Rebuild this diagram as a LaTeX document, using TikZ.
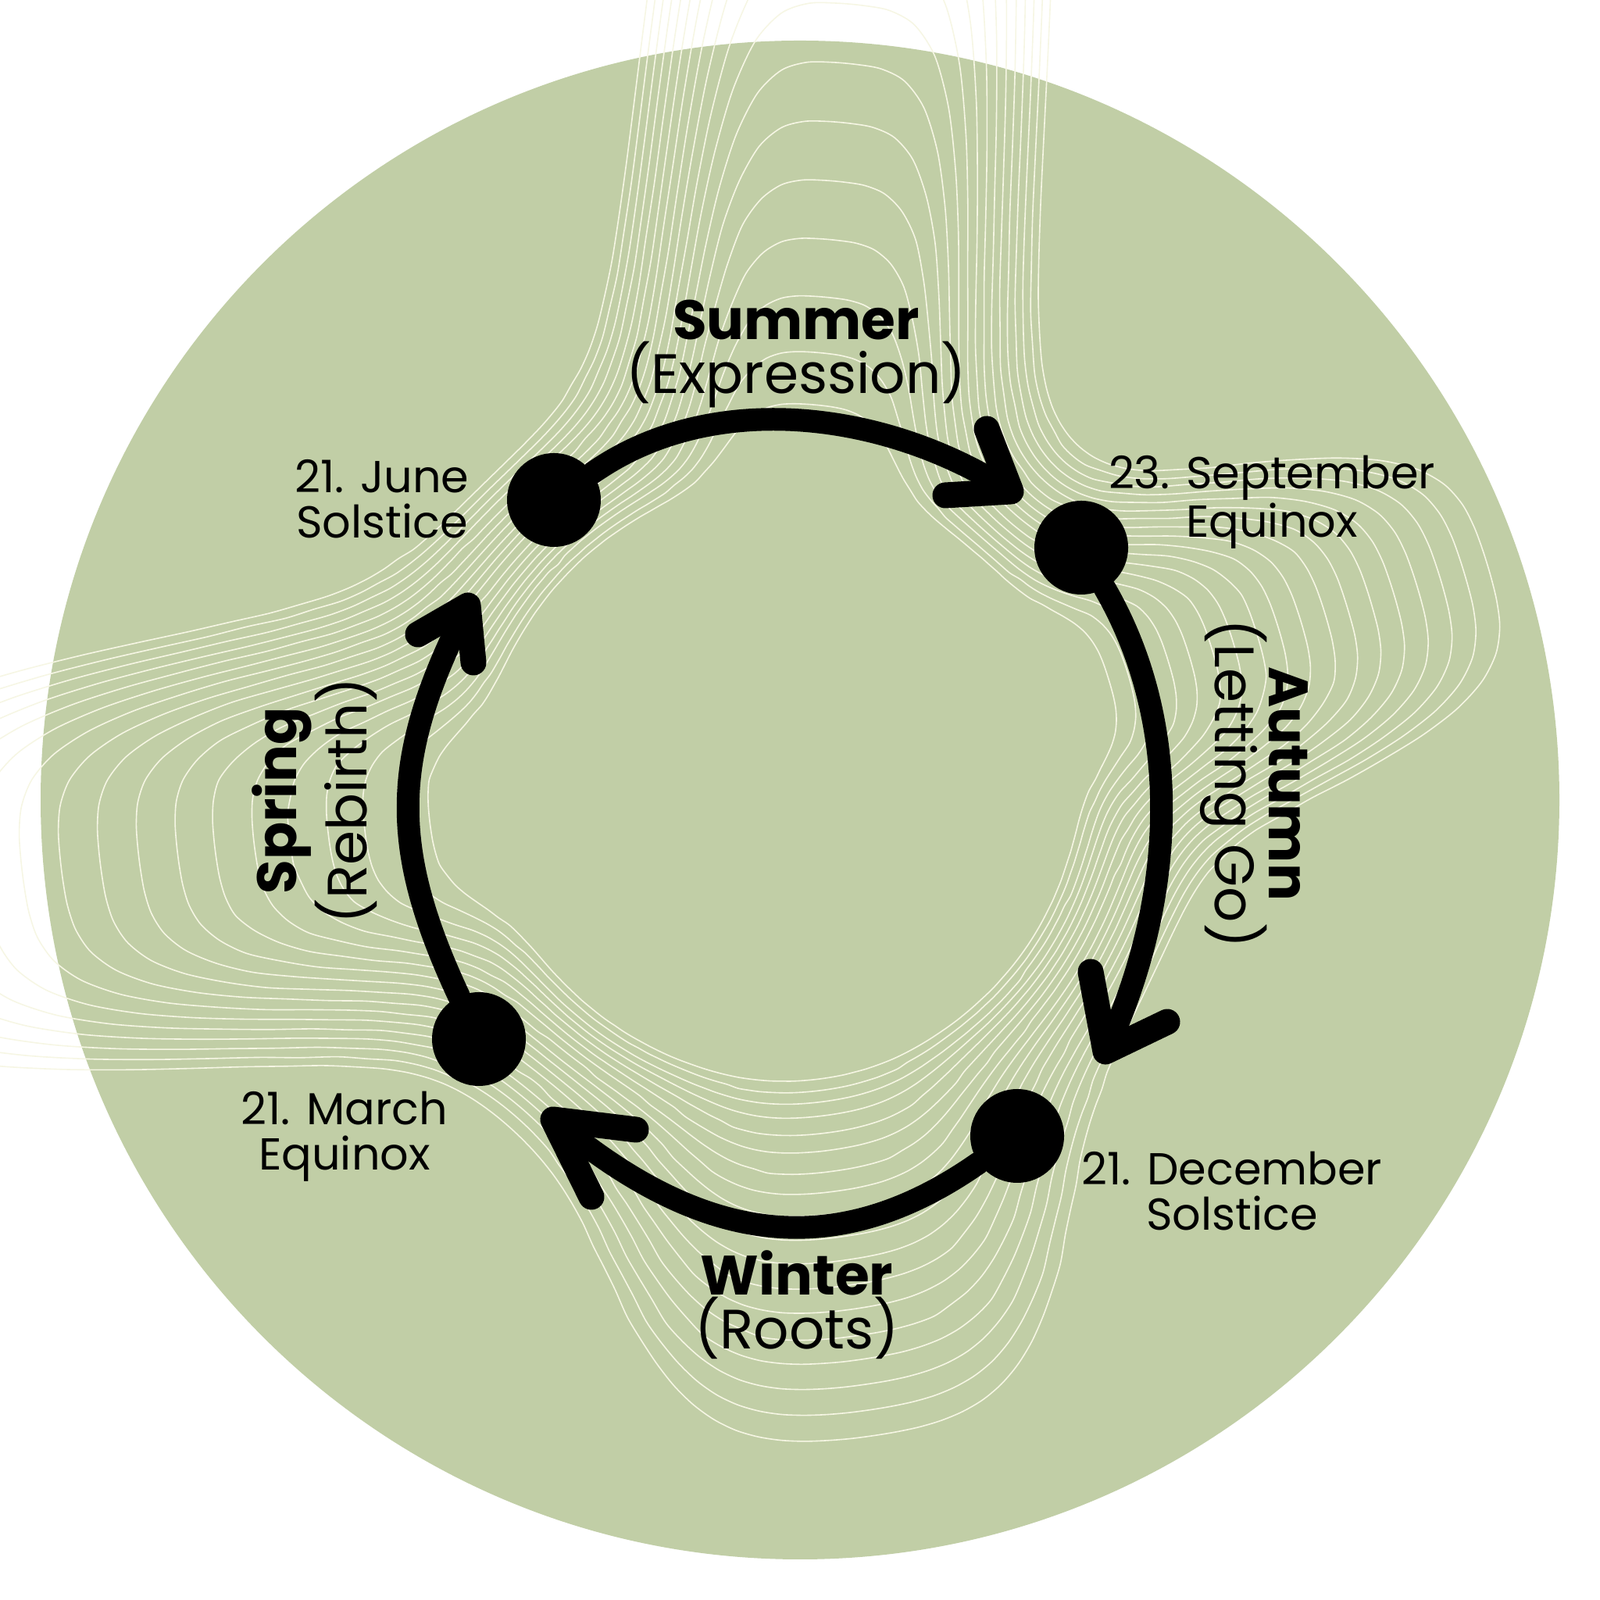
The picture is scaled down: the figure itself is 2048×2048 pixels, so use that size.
\documentclass[tikz,border=0pt]{standalone}
\usepackage{fontspec}
\setmainfont{Poppins}
\definecolor{sage}{RGB}{193,206,166}
\definecolor{contour}{RGB}{246,246,228}
\begin{document}
\begin{tikzpicture}[x=0.1mm,y=0.1mm,
  declare function={
    q2(\u)=\u*\u;
    p6(\u)=\u*\u*\u*\u*\u*\u;
    fing(\d,\W,\T)=(cos(\d)>0)/sqrt(sqrt(q2(q2(1/\T))+q2(q2((abs(sin(\d))+0.005)/\W))));
  },
  shaft/.style={line width=2.9mm, line cap=round},
  head/.style={line width=3.3mm, line cap=round, line join=round},
  dot/.style={circle, fill=black, minimum size=12mm, inner sep=0pt},
  seasonlbl/.style={font=\fontsize{20.2pt}{19.9pt}\selectfont, align=center, inner sep=0pt, anchor=base},
  datelbl/.style={font=\fontsize{16.3pt}{16.5pt}\selectfont, align=center, inner sep=0pt, anchor=base},
  contourline/.style={draw=contour, line width=0.16mm}
]
\useasboundingbox (0,0) rectangle (2048,2048);
\fill[sage] (1024,1024) circle[radius=972];

\begin{scope}[shift={(1000,1050)}]
\foreach \i in {0,...,17}{
  \pgfmathsetmacro\s{\i/17}
  \pgfmathsetmacro\B{0.38+0.14*\s}
  \pgfmathsetmacro\WT{0.12+0.15*\s}
  \pgfmathsetmacro\TT{0.46+1.30*\s}
  \pgfmathsetmacro\WR{0.11+0.12*\s}
  \pgfmathsetmacro\TR{0.40+0.54*\s}
  \pgfmathsetmacro\WD{0.11+0.21*\s}
  \pgfmathsetmacro\TD{0.26+0.58*\s}
  \pgfmathsetmacro\WL{0.12+0.17*\s}
  \pgfmathsetmacro\TL{0.42+0.86*\s}
  \draw[contourline] plot[smooth cycle, samples=180, domain=0:358, variable=\t]
    (\t:{1000*pow(p6(\B)+p6(fing(\t-85,\WT,\TT))+p6(fing(\t-17,\WR,\TR))+p6(fing(\t-277,\WD,\TD))+p6(fing(\t-187,\WL,\TL)),1/6)});
}
\end{scope}

% dots
\node[dot] (june) at (709,1408) {};
\node[dot] (sept) at (1384,1347) {};
\node[dot] (dec) at (1302,594) {};
\node[dot] (march) at (613,718) {};

% arrow tips and arm ends
\coordinate (tS) at (1294,1419);
\coordinate (hSa) at (1263,1499);
\coordinate (hSb) at (1210,1414);
\coordinate (tA) at (1415,702);
\coordinate (hAa) at (1396,804);
\coordinate (hAb) at (1494,740);
\coordinate (tW) at (708,615);
\coordinate (hWa) at (814,602);
\coordinate (hWb) at (757,516);
\coordinate (tP) at (599,1273);
\coordinate (hPa) at (535,1236);
\coordinate (hPb) at (606,1200);

\draw[shaft] (june) to[out=35,in=147,looseness=0.9] (tS);
\draw[head] (hSa) -- (tS) -- (hSb);
\draw[shaft] (sept) to[out=-60,in=65,looseness=0.9] (tA);
\draw[head] (hAa) -- (tA) -- (hAb);
\draw[shaft] (dec) to[out=-145,in=-40,looseness=1.1] (tW);
\draw[head] (hWa) -- (tW) -- (hWb);
\draw[shaft] (march) to[out=115,in=-117,looseness=1.1] (tP);
\draw[head] (hPa) -- (tP) -- (hPb);

% labels (anchor base = baseline of last line)
\node[seasonlbl] (summer) at (1019,1544) {\textbf{Summer}\\(Expression)};
\node[seasonlbl] (winter) at (1020,321) {\textbf{Winter}\\(Roots)};
\node[seasonlbl, rotate=90] (spring) at (469,1023) {\textbf{Spring}\\(Rebirth)};
\node[seasonlbl, rotate=-90] (autumn) at (1555,1045) {\textbf{Autumn}\\(Letting Go)};
\node[datelbl] (junelbl) at (489,1359) {21. June\\Solstice};
\node[datelbl] (septlbl) at (1628,1360) {23. September\\Equinox};
\node[datelbl] (declbl) at (1577,473) {21. December\\Solstice};
\node[datelbl] (marchlbl) at (441,550) {21. March\\Equinox};
\end{tikzpicture}
\end{document}
